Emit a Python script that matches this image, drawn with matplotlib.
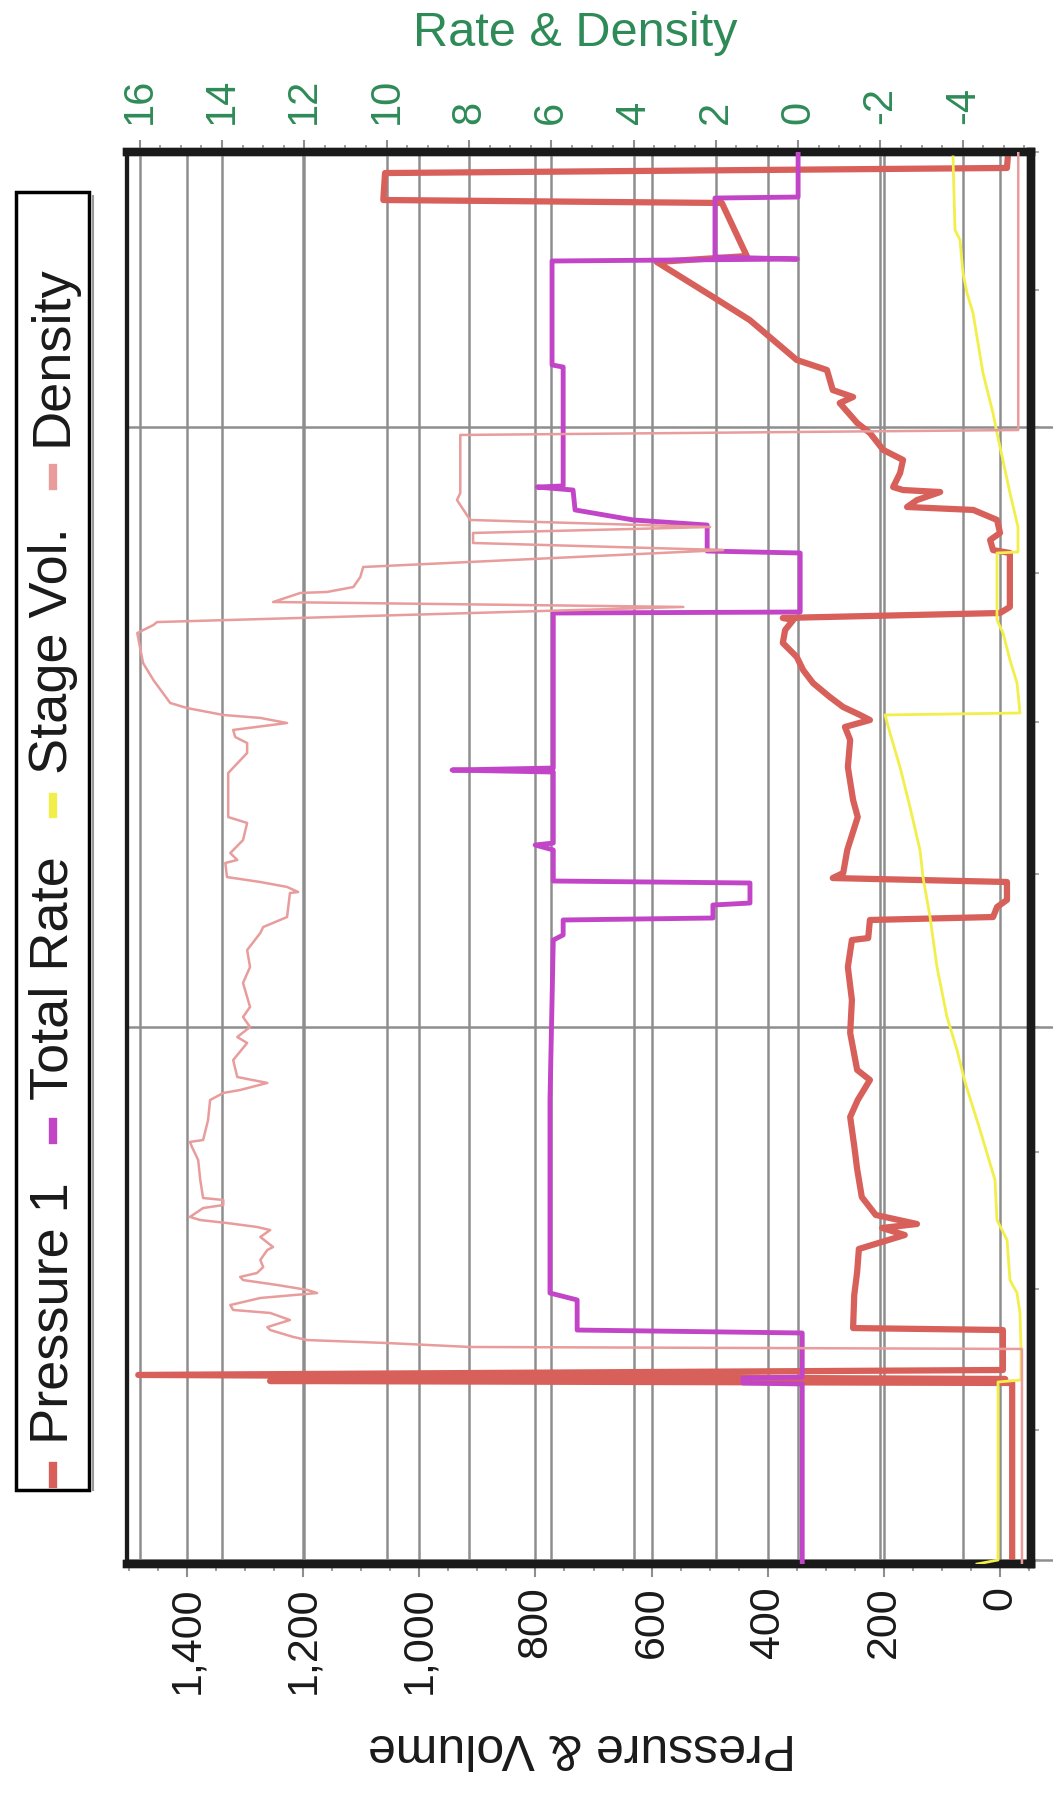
import numpy as np
import matplotlib
matplotlib.use("Agg")
import matplotlib.pyplot as plt
from matplotlib.lines import Line2D
from matplotlib.patches import Rectangle

plt.rcParams['font.family'] = ['Liberation Sans', 'DejaVu Sans']
plt.rcParams['axes.unicode_minus'] = False

# Time in minutes; the chart is printed rotated, so time runs from bottom (0) to top (100)
pressure_t = [0, 12.82, 12.96, 13.10, 13.39, 13.74, 16.57, 16.71, 19.05, 20.68,
              22.31, 23.30, 23.80, 24.08, 24.72, 25.99, 27.97, 29.60, 31.66, 32.86,
              34.28, 34.99, 37.61, 39.94, 42.28, 44.19, 44.33, 45.61, 45.82, 46.53,
              47.03, 48.30, 48.58, 48.94, 50.57, 52.90, 54.11, 56.44, 58.36, 59.28,
              59.77, 60.13, 60.69, 61.40, 62.39, 63.31, 64.24, 65.23, 66.15, 66.86,
              67.00, 67.35, 67.78, 71.60, 71.81, 72.52, 73.02, 73.94, 74.65, 74.86,
              75.35, 75.92, 76.06, 76.27, 77.27, 78.19, 78.90, 80.10, 80.81, 82.22,
              82.65, 83.14, 84.56, 85.27, 88.10, 89.73, 92.21, 92.63, 96.39, 96.60,
              98.51, 98.87, 99.93]
pressure_psi = [-21, -21, 1257, -9, 1484, -5, -5, 253, 251, 246,
                243, 164, 203, 143, 214, 238, 246, 251, 258, 245,
                224, 246, 258, 255, 262, 255, 227, 224, 12, 5,
                -12, -12, 288, 270, 263, 245, 253, 262, 258, 267,
                224, 241, 270, 293, 322, 339, 350, 374, 370, 356,
                374, 0, -17, -17, 12, 17, 0, 5, 46, 160,
                143, 103, 167, 184, 172, 167, 201, 224, 246, 276,
                253, 288, 298, 350, 431, 494, 591, 436, 479, 1062,
                1059, -12, -14]

rate_t = [0, 12.75, 12.82, 13.17, 13.24, 16.36, 16.57, 18.70, 19.19, 32.86,
          44.19, 44.55, 45.61, 45.75, 46.67, 46.81, 48.23, 48.37, 50.57, 50.92,
          51.06, 56.09, 56.23, 56.37, 67.35, 67.42, 71.60, 71.74, 73.58, 73.94,
          74.65, 76.06, 76.27, 76.35, 84.77, 84.92, 92.28, 92.42, 92.56, 96.74,
          96.81, 99.93]
rate_bpm = [-0.1, -0.1, 1.34, 1.34, -0.1, -0.1, 5.37, 5.37, 6.03, 6.03,
            5.95, 5.71, 5.71, 2.07, 2.07, 1.17, 1.17, 5.95, 5.95, 6.39,
            5.95, 5.95, 8.41, 5.95, 5.95, -0.05, -0.05, 2.21, 2.21, 4.01,
            5.42, 5.47, 6.34, 5.71, 5.71, 5.98, 5.98, 0.02, 2.02, 2.02,
            0.0, 0.0]

stage_t = [0, 0.28, 12.89, 13.03, 15.37, 17.78, 19.19, 20.11, 22.95, 24.36,
           27.20, 30.74, 34.14, 36.40, 38.74, 42.28, 45.82, 48.65, 50.57, 53.61,
           56.44, 58.85, 60.13, 60.27, 62.39, 64.02, 65.93, 66.86, 71.60, 71.67,
           73.44, 75.85, 80.10, 81.52, 84.35, 88.60, 90.01, 91.43, 93.77, 94.48,
           99.65]
stage_vol = [39.6, 3.4, 3.4, -36.2, -36.2, -34.4, -29.3, -17.2, -12.1, 5.2,
             8.6, 34.4, 60.3, 74.0, 91.3, 108.5, 120.5, 132.6, 137.8, 155.0,
             172.2, 189.4, 198.0, -34.4, -29.3, -17.2, -5.2, 5.2, 5.2, -31.0,
             -31.0, -17.2, 5.2, 12.1, 29.3, 46.5, 56.8, 63.7, 68.9, 77.5,
             80.9]

density_t = [0, 15.23, 15.37, 15.65, 15.86, 16.08, 16.57, 16.78, 17.28, 17.78,
             17.99, 18.34, 18.84, 19.19, 19.41, 19.76, 20.11, 20.33, 20.61, 21.03,
             21.53, 22.24, 22.45, 23.16, 23.65, 23.87, 24.15, 24.36, 24.58, 25.21,
             25.42, 25.78, 25.92, 27.20, 28.61, 29.53, 29.89, 30.03, 31.44, 32.86,
             33.36, 33.57, 34.07, 34.49, 35.69, 36.90, 37.32, 38.03, 38.74, 39.45,
             41.15, 42.28, 43.48, 44.69, 45.11, 45.82, 47.52, 47.59, 47.95, 48.30,
             48.65, 49.65, 49.86, 50.35, 51.27, 52.48, 52.90, 56.02, 57.44, 58.14,
             58.57, 59.07, 59.56, 59.92, 60.13, 60.62, 60.98, 62.61, 63.81, 65.93,
             66.50, 66.71, 67.78, 68.13, 68.77, 68.84, 69.19, 69.90, 70.61, 71.81,
             72.31, 73.02, 73.44, 73.94, 75.35, 75.85, 79.96, 80.31, 99.93]
density_ppg = [-5.44, -5.44, 7.97, 9.99, 11.93, 12.27, 12.83, 12.90, 12.35, 12.83,
               13.73, 13.80, 13.07, 11.69, 11.93, 12.66, 13.49, 13.56, 13.15, 13.00,
               13.07, 12.90, 12.76, 13.07, 12.83, 13.15, 13.88, 14.53, 14.78, 14.46,
               13.97, 13.97, 14.46, 14.53, 14.58, 14.73, 14.78, 14.46, 14.34, 14.29,
               13.97, 13.56, 12.90, 13.63, 13.73, 13.39, 13.63, 13.32, 13.49, 13.32,
               13.49, 13.32, 13.39, 13.07, 13.00, 12.42, 12.35, 12.15, 12.42, 13.07,
               13.88, 13.92, 13.63, 13.80, 13.49, 13.39, 13.85, 13.85, 13.39, 13.39,
               13.68, 13.73, 12.42, 13.07, 13.97, 14.85, 15.26, 15.67, 15.92, 16.06,
               15.67, 15.58, 2.79, 12.76, 12.10, 11.45, 10.81, 10.64, 10.57, 1.82,
               7.90, 7.90, 2.14, 7.97, 8.29, 8.21, 8.21, -5.35, -5.35]

pressure_ticks = [0, 200, 400, 600, 800, 1000, 1200, 1400]
pressure_labels = ['0', '200', '400', '600', '800', '1,000', '1,200', '1,400']
rate_ticks = [-4, -2, 0, 2, 4, 6, 8, 10, 12, 14, 16]
time_ticks = [0.3, 9.5, 19.5, 29.2, 38.0, 48.9, 59.6, 70.2, 80.5, 90.2, 100]
time_grid = [0.3, 38.0, 80.5]

legend_names = ['Pressure 1', 'Total Rate', 'Stage Vol.', 'Density']

red = '#D8605A'
magenta = '#C245C8'
yellow = '#F2EE4A'
pink = '#E89C9C'
green = '#2E8B57'
grid_c = '#8E8E8E'
frame_c = '#1a1a1a'

W, H = 1053, 1796
fig = plt.figure(figsize=(W / 100, H / 100), dpi=100)
ax = fig.add_axes([127 / W, 1 - 1564 / H, 904 / W, 1412 / H])
ax2 = ax.twiny()

# all curves go on the top axes; pressure/volume use the bottom axis scale
ax2.plot(pressure_psi, pressure_t, color=red, lw=4.5, transform=ax.transData,
         solid_joinstyle='round', zorder=2)
ax2.plot(rate_bpm, rate_t, color=magenta, lw=3.5, solid_joinstyle='round', zorder=3)
ax2.plot(stage_vol, stage_t, color=yellow, lw=2, transform=ax.transData, zorder=4)
ax2.plot(density_ppg, density_t, color=pink, lw=1.8, zorder=5)

ax.set_xlim(1503.4, -53.4)
ax2.set_xlim(16.31, -5.66)
ax.set_ylim(0, 100)

# bottom axis: Pressure & Volume
ax.set_xticks(pressure_ticks)
ax.set_xticklabels(pressure_labels, rotation=90, fontsize=31, color=frame_c)
ax.set_xticks(np.arange(-50, 1501, 50), minor=True)
ax.tick_params(axis='x', which='major', direction='out', length=9, width=1.5,
               color=grid_c, pad=7)
ax.tick_params(axis='x', which='minor', direction='out', length=5, width=1.2,
               color=grid_c)
ax.grid(axis='x', which='major', color=grid_c, lw=1.8)

# time axis ticks on the right (no readable labels)
ax.yaxis.tick_right()
ax.set_yticks(time_ticks)
ax.set_yticklabels([])
ax.tick_params(axis='y', which='major', direction='out', length=6, width=1.2,
               color='#9a9a9a')
for t in time_grid:
    ax.axhline(t, color=grid_c, lw=1.8, xmin=0, xmax=1.025, clip_on=False, zorder=0.5)

# top axis: Rate & Density
ax2.set_xticks(rate_ticks)
ax2.set_xticklabels([str(v) for v in rate_ticks], rotation=90, fontsize=30, color=green)
ax2.set_xticks(np.arange(-5.5, 16.01, 0.5), minor=True)
ax2.tick_params(axis='x', which='major', direction='out', length=9, width=1.5,
                color=grid_c, pad=11)
ax2.tick_params(axis='x', which='minor', direction='out', length=5, width=1.2,
                color=grid_c)
ax2.set_axisbelow(True)
ax2.grid(axis='x', which='major', color=grid_c, lw=1.8)

for a in (ax, ax2):
    for side in ('top', 'bottom', 'right'):
        a.spines[side].set_linewidth(6)
        a.spines[side].set_color(frame_c)
    a.spines['left'].set_linewidth(3)
    a.spines['left'].set_color(frame_c)

fig.text(575 / W, 1 - 34 / H, 'Rate & Density', color=green, fontsize=35,
         ha='center', va='center')
fig.text(582 / W, 1 - 1747 / H, 'Pressure & Volume', color=frame_c, fontsize=36,
         rotation=180, ha='center', va='center')

# legend, drawn rotated like the rest of the chart
fig.add_artist(Rectangle((16 / W, 1 - 1490 / H), 73 / W, 1298 / H, fill=False,
                         lw=2.5, edgecolor='black', transform=fig.transFigure))
fig.add_artist(Line2D([93 / W, 93 / W], [1 - 1490 / H, 1 - 196 / H], color='#9a9a9a',
                      lw=1.5, transform=fig.transFigure))
renderer = fig.canvas.get_renderer()
y = 1484
for name, col in zip(legend_names, [red, magenta, yellow, pink]):
    fig.add_artist(Line2D([53 / W, 53 / W], [1 - y / H, 1 - (y - 18) / H], color=col,
                          lw=6, transform=fig.transFigure))
    txt = fig.text(53 / W, 1 - (y - 40) / H, name, rotation=90, ha='center',
                   va='bottom', fontsize=39, color=frame_c)
    h = txt.get_window_extent(renderer).height
    y = y - 40 - h - 42

fig.savefig('out.png', dpi=100)
